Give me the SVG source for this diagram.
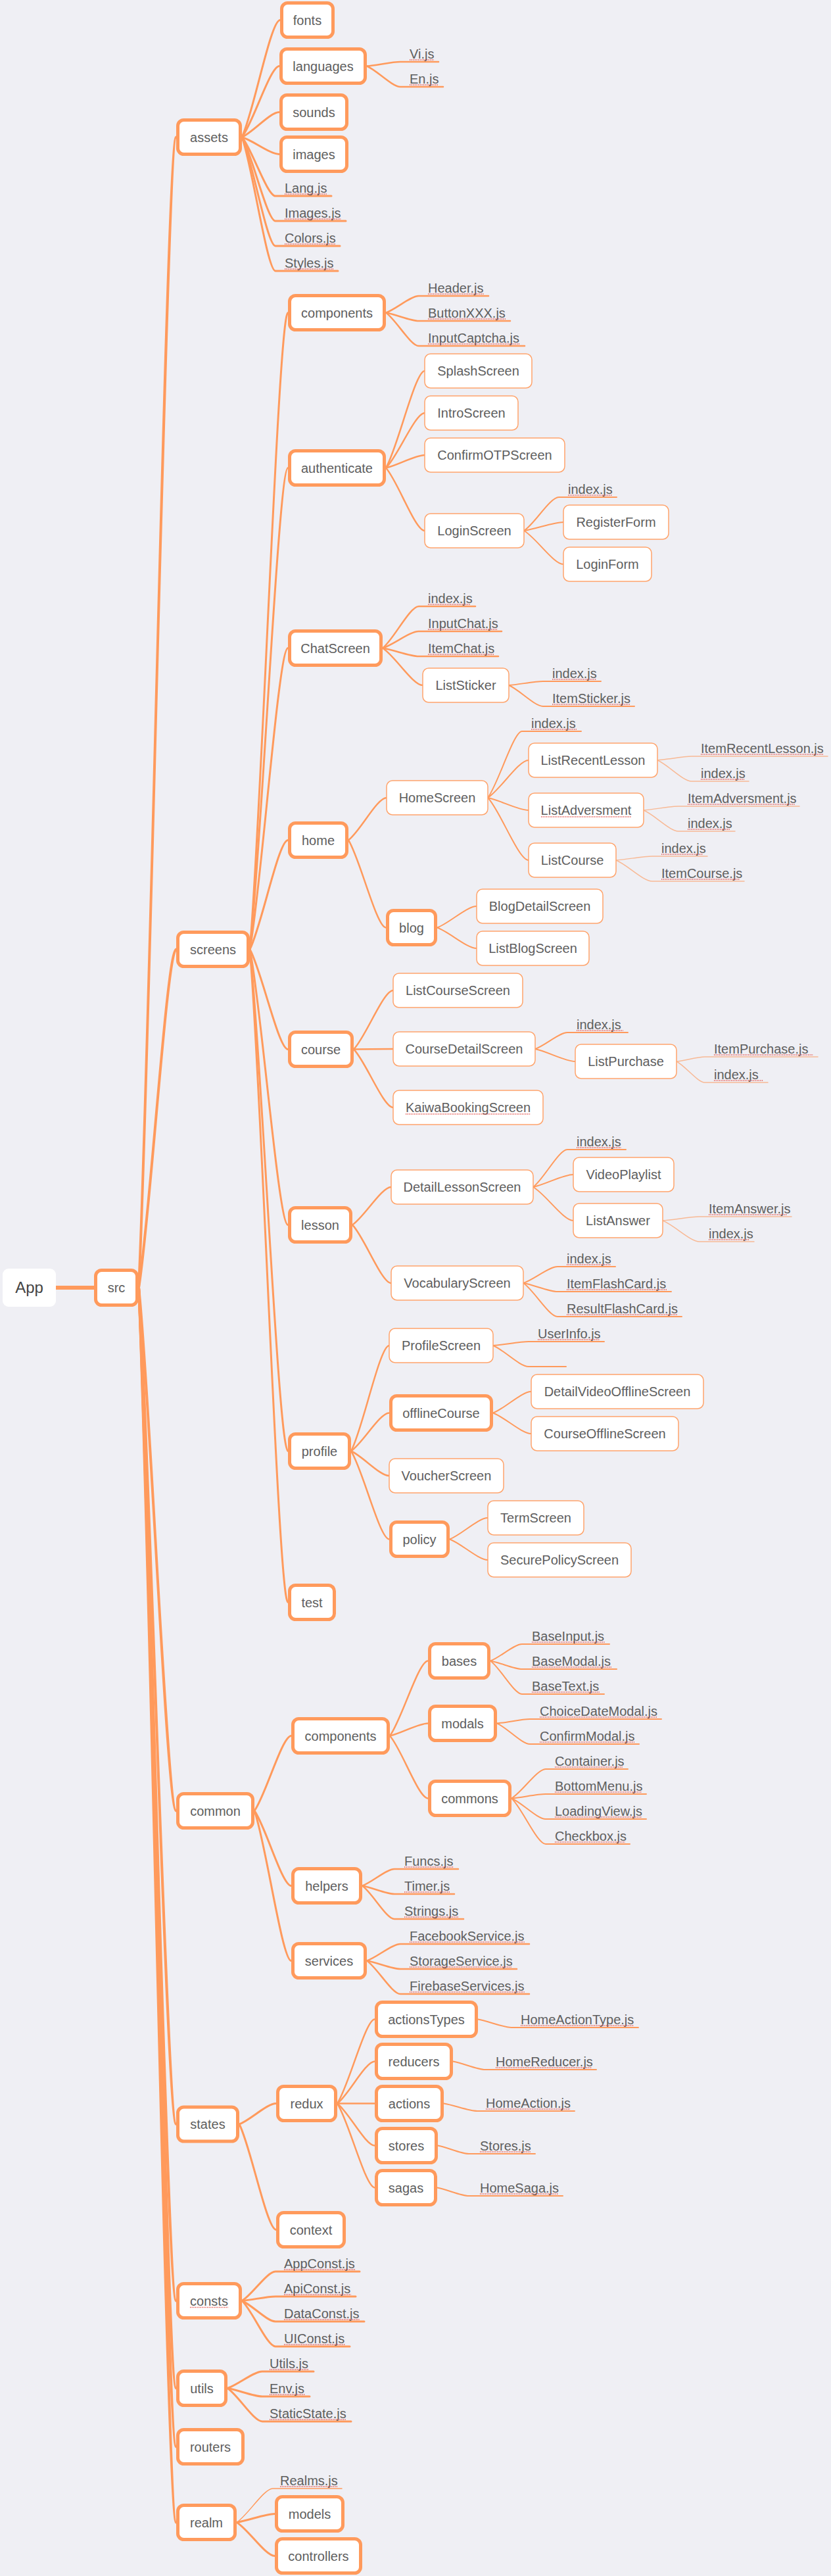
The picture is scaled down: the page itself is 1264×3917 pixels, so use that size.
<svg xmlns="http://www.w3.org/2000/svg" width="1264" height="3917" viewBox="0 0 1264 3917">
<style>
.bg{fill:#EFEFF4}
.k{fill:#fff;stroke:#FF9A5C;stroke-width:5}
.n{fill:#fff;stroke:#FFA46C;stroke-width:1.5}
.r{fill:#fff}
text{font-family:"Liberation Sans",Arial,sans-serif;font-size:20px;fill:#5e5e5e}
.t{text-anchor:middle}
.app{font-size:24px;fill:#444}
.sp{stroke:#E5504A;stroke-width:1.6;stroke-dasharray:1.3 1.3;fill:none}
#connectors path{fill:none;stroke:#FF9A5C;stroke-linecap:round}
.w0{stroke-width:6}
.w1{stroke-width:4}
.w2{stroke-width:3}
.w3{stroke-width:2.5}
.w4{stroke-width:2}
#connectors .w5{stroke-width:1.5;stroke:#F8B995}
.wt{stroke-width:1.5}
</style>
<rect class="bg" x="0" y="0" width="1264" height="3917"/>
<g id="connectors">
<path class="w0" d="M85 1958 H143"/>
<path class="w1" d="M211 1958 C228.1 1608.1 253.8 208.5 268 208.5"/>
<path class="w1" d="M211 1958 C228.1 1855.1 253.8 1443.5 268 1443.5"/>
<path class="w1" d="M211 1958 C228.1 2117.1 253.8 2753.5 268 2753.5"/>
<path class="w1" d="M211 1958 C228.1 2212.4 253.8 3230 268 3230"/>
<path class="w1" d="M211 1958 C228.1 2266.1 253.8 3498.5 268 3498.5"/>
<path class="w1" d="M211 1958 C228.1 2292.7 253.8 3631.5 268 3631.5"/>
<path class="w1" d="M211 1958 C228.1 2310.5 253.8 3720.5 268 3720.5"/>
<path class="w1" d="M211 1958 C228.1 2333.5 253.8 3835.5 268 3835.5"/>
<path class="w2" d="M368 208.5 C385.4 172.9 411.5 30.5 426 30.5"/>
<path class="w2" d="M368 208.5 C385.1 186.9 410.8 100.5 425 100.5"/>
<path class="w2" d="M368 208.5 C385.1 200.9 410.8 170.5 425 170.5"/>
<path class="w2" d="M368 208.5 C385.1 213.7 410.8 234.5 425 234.5"/>
<path class="w2" d="M368 208.5 C383.3 226.4 406.3 298 419 298 H504"/>
<path class="w2" d="M368 208.5 C383.3 234 406.3 336 419 336 H526"/>
<path class="w2" d="M368 208.5 C383.3 241.6 406.3 374 419 374 H517"/>
<path class="w2" d="M368 208.5 C383.3 249.2 406.3 412 419 412 H514"/>
<path class="w3" d="M558 100.5 C573.3 99.2 596.3 94 609 94 H667"/>
<path class="w3" d="M558 100.5 C573.3 106.8 596.3 132 609 132 H674"/>
<path class="w2" d="M380 1443.5 C397.4 1249.9 423.5 475.5 438 475.5"/>
<path class="w2" d="M380 1443.5 C397.4 1297.1 423.5 711.5 438 711.5"/>
<path class="w2" d="M380 1443.5 C397.4 1351.9 423.5 985.5 438 985.5"/>
<path class="w2" d="M380 1443.5 C397.4 1410.3 423.5 1277.5 438 1277.5"/>
<path class="w2" d="M380 1443.5 C397.4 1473.9 423.5 1595.5 438 1595.5"/>
<path class="w2" d="M380 1443.5 C397.4 1527.3 423.5 1862.5 438 1862.5"/>
<path class="w2" d="M380 1443.5 C397.4 1596.1 423.5 2206.5 438 2206.5"/>
<path class="w2" d="M380 1443.5 C397.4 1642.1 423.5 2436.5 438 2436.5"/>
<path class="w3" d="M587 475.5 C602 470.4 624.5 450 637 450 H743"/>
<path class="w3" d="M587 475.5 C602 478 624.5 488 637 488 H776"/>
<path class="w3" d="M587 475.5 C602 485.6 624.5 526 637 526 H798"/>
<path class="w3" d="M587 711.5 C604.7 682 631.3 564 646 564"/>
<path class="w3" d="M587 711.5 C604.7 694.8 631.3 628 646 628"/>
<path class="w3" d="M587 711.5 C604.7 707.7 631.3 692 646 692"/>
<path class="w3" d="M587 711.5 C604.7 730.7 631.3 807 646 807"/>
<path class="w4" d="M797 807 C812.9 797 836.8 756 850 756 H938"/>
<path class="w4" d="M797 807 C815 804.4 842 794 857 794"/>
<path class="w4" d="M797 807 C815 817.2 842 858 857 858"/>
<path class="w3" d="M582 985.5 C598.5 972.8 623.3 922 637 922 H723"/>
<path class="w3" d="M582 985.5 C598.5 980.4 623.3 960 637 960 H763"/>
<path class="w3" d="M582 985.5 C598.5 988 623.3 998 637 998 H758"/>
<path class="w3" d="M582 985.5 C600.3 996.8 627.8 1042 643 1042"/>
<path class="w4" d="M774 1042 C789.6 1040.8 813 1036 826 1036 H914"/>
<path class="w4" d="M774 1042 C789.6 1048.4 813 1074 826 1074 H965"/>
<path class="w3" d="M530 1277.5 C547.4 1264.6 573.5 1213 588 1213"/>
<path class="w3" d="M530 1277.5 C547.1 1304.1 572.8 1410.5 587 1410.5"/>
<path class="w4" d="M742 1213 C757.6 1192.8 781 1112 794 1112 H884"/>
<path class="w4" d="M742 1213 C760.6 1201.6 788.5 1156 804 1156"/>
<path class="w4" d="M742 1213 C760.6 1216.8 788.5 1232 804 1232"/>
<path class="w4" d="M742 1213 C760.6 1232 788.5 1308 804 1308"/>
<path class="w5" d="M1000 1156 C1015.6 1154.8 1039 1150 1052 1150 H1259"/>
<path class="w5" d="M1000 1156 C1015.6 1162.4 1039 1188 1052 1188 H1139"/>
<path class="w5" d="M979 1232 C994.9 1230.8 1018.8 1226 1032 1226 H1216"/>
<path class="w5" d="M979 1232 C994.9 1238.4 1018.8 1264 1032 1264 H1118"/>
<path class="w5" d="M937 1308 C953.5 1306.8 978.3 1302 992 1302 H1076"/>
<path class="w5" d="M937 1308 C953.5 1314.4 978.3 1340 992 1340 H1132"/>
<path class="w4" d="M665 1410.5 C683 1404 710 1378 725 1378"/>
<path class="w4" d="M665 1410.5 C683 1416.8 710 1442 725 1442"/>
<path class="w3" d="M538 1595.5 C556 1577.6 583 1506 598 1506"/>
<path class="w3" d="M538 1595.5 C556 1595.4 583 1595 598 1595"/>
<path class="w3" d="M538 1595.5 C556 1613.2 583 1684 598 1684"/>
<path class="w4" d="M814 1595 C828.7 1590 850.8 1570 863 1570 H955"/>
<path class="w4" d="M814 1595 C832.3 1598.8 859.8 1614 875 1614"/>
<path class="w5" d="M1029 1614 C1041.9 1612.6 1061.3 1607 1072 1607 H1244"/>
<path class="w5" d="M1029 1614 C1041.9 1620.4 1061.3 1646 1072 1646 H1168"/>
<path class="w3" d="M536 1862.5 C553.7 1851 580.3 1805 595 1805"/>
<path class="w3" d="M536 1862.5 C553.7 1880.2 580.3 1951 595 1951"/>
<path class="w4" d="M811 1805 C826.6 1793.6 850 1748 863 1748 H952"/>
<path class="w4" d="M811 1805 C829.3 1801.2 856.8 1786 872 1786"/>
<path class="w4" d="M811 1805 C829.3 1815.2 856.8 1856 872 1856"/>
<path class="w5" d="M1008 1856 C1024.8 1854.8 1050 1850 1064 1850 H1204"/>
<path class="w5" d="M1008 1856 C1024.8 1862.4 1050 1888 1064 1888 H1147"/>
<path class="w4" d="M796 1951 C811.6 1946 835 1926 848 1926 H936"/>
<path class="w4" d="M796 1951 C811.6 1953.6 835 1964 848 1964 H1021"/>
<path class="w4" d="M796 1951 C811.6 1961.2 835 2002 848 2002 H1037"/>
<path class="w3" d="M534 2206.5 C551.4 2174.4 577.5 2046 592 2046"/>
<path class="w3" d="M534 2206.5 C551.4 2194.9 577.5 2148.5 592 2148.5"/>
<path class="w3" d="M534 2206.5 C551.4 2214 577.5 2244 592 2244"/>
<path class="w3" d="M534 2206.5 C551.4 2233.3 577.5 2340.5 592 2340.5"/>
<path class="w4" d="M750 2046 C766.2 2044.8 790.5 2040 804 2040 H919"/>
<path class="w4" d="M750 2046 C766.2 2052.4 790.5 2078 804 2078 H861"/>
<path class="w4" d="M750 2148.5 C767.4 2142 793.5 2116 808 2116"/>
<path class="w4" d="M750 2148.5 C767.4 2154.8 793.5 2180 808 2180"/>
<path class="w4" d="M684 2340.5 C701.4 2334 727.5 2308 742 2308"/>
<path class="w4" d="M684 2340.5 C701.4 2346.8 727.5 2372 742 2372"/>
<path class="w2" d="M387 2753.5 C403.8 2730.7 429 2639.5 443 2639.5"/>
<path class="w2" d="M387 2753.5 C403.8 2776.3 429 2867.5 443 2867.5"/>
<path class="w2" d="M387 2753.5 C403.8 2799.1 429 2981.5 443 2981.5"/>
<path class="w3" d="M593 2639.5 C610.4 2616.7 636.5 2525.5 651 2525.5"/>
<path class="w3" d="M593 2639.5 C610.4 2635.7 636.5 2620.5 651 2620.5"/>
<path class="w3" d="M593 2639.5 C610.4 2658.5 636.5 2734.5 651 2734.5"/>
<path class="w4" d="M746 2525.5 C760.4 2520.4 782 2500 794 2500 H927"/>
<path class="w4" d="M746 2525.5 C760.4 2528 782 2538 794 2538 H938"/>
<path class="w4" d="M746 2525.5 C760.4 2535.6 782 2576 794 2576 H919"/>
<path class="w4" d="M756 2620.5 C771 2619.2 793.5 2614 806 2614 H1006"/>
<path class="w4" d="M756 2620.5 C771 2626.8 793.5 2652 806 2652 H972"/>
<path class="w4" d="M778 2734.5 C793.6 2725.6 817 2690 830 2690 H955"/>
<path class="w4" d="M778 2734.5 C793.6 2733.2 817 2728 830 2728 H983"/>
<path class="w4" d="M778 2734.5 C793.6 2740.8 817 2766 830 2766 H983"/>
<path class="w4" d="M778 2734.5 C793.6 2748.4 817 2804 830 2804 H958"/>
<path class="w3" d="M551 2867.5 C565.7 2862.4 587.8 2842 600 2842 H697"/>
<path class="w3" d="M551 2867.5 C565.7 2870 587.8 2880 600 2880 H691"/>
<path class="w3" d="M551 2867.5 C565.7 2877.6 587.8 2918 600 2918 H705"/>
<path class="w3" d="M558 2981.5 C573.3 2976.4 596.3 2956 609 2956 H805"/>
<path class="w3" d="M558 2981.5 C573.3 2984 596.3 2994 609 2994 H786"/>
<path class="w3" d="M558 2981.5 C573.3 2991.6 596.3 3032 609 3032 H805"/>
<path class="w2" d="M364 3230 C380.8 3223.7 406 3198.5 420 3198.5"/>
<path class="w2" d="M364 3230 C380.8 3262.1 406 3390.5 420 3390.5"/>
<path class="w3" d="M513 3198.5 C530.1 3172.9 555.8 3070.5 570 3070.5"/>
<path class="w3" d="M513 3198.5 C530.1 3185.7 555.8 3134.5 570 3134.5"/>
<path class="w3" d="M513 3198.5 H570"/>
<path class="w3" d="M513 3198.5 C530.1 3211.3 555.8 3262.5 570 3262.5"/>
<path class="w3" d="M513 3198.5 C530.1 3224.1 555.8 3326.5 570 3326.5"/>
<path class="w4" d="M727 3070.5 C742.3 3073 765.3 3083 778 3083 H971"/>
<path class="w4" d="M689 3134.5 C703.7 3137 725.8 3147 738 3147 H907"/>
<path class="w4" d="M675 3198.5 C690.3 3200.8 713.3 3210 726 3210 H874"/>
<path class="w4" d="M666 3262.5 C680.1 3265 701.3 3275 713 3275 H814"/>
<path class="w4" d="M665 3326.5 C679.4 3329 701 3339 713 3339 H856"/>
<path class="w2" d="M368 3498.5 C383.3 3489.6 406.3 3454 419 3454 H547"/>
<path class="w2" d="M368 3498.5 C383.3 3497.2 406.3 3492 419 3492 H541"/>
<path class="w2" d="M368 3498.5 C383.3 3504.8 406.3 3530 419 3530 H554"/>
<path class="w2" d="M368 3498.5 C383.3 3512.4 406.3 3568 419 3568 H532"/>
<path class="w2" d="M346 3631.5 C361.9 3626.4 385.8 3606 399 3606 H477"/>
<path class="w2" d="M346 3631.5 C361.9 3634 385.8 3644 399 3644 H471"/>
<path class="w2" d="M346 3631.5 C361.9 3641.6 385.8 3682 399 3682 H534"/>
<path class="wt" d="M360 3835.5 C376.5 3825.2 401.3 3784 415 3784 H520"/>
<path class="w2" d="M360 3835.5 C377.4 3832.9 403.5 3822.5 418 3822.5"/>
<path class="w2" d="M360 3835.5 C377.4 3845.7 403.5 3886.5 418 3886.5"/>
</g>
<g id="n-app"><rect class="r" x="4" y="1929" width="81" height="58" rx="9"/><text class="t app" x="44.5" y="1966">App</text></g>
<g id="n-src"><rect class="k" x="145.5" y="1931.5" width="63" height="53" rx="9"/><text class="t" x="177" y="1965">src</text></g>
<g id="n-assets"><rect class="k" x="270.5" y="182.5" width="95" height="52" rx="9"/><text class="t" x="318" y="215.5">assets</text></g>
<g id="n-fonts"><rect class="k" x="428.5" y="4.5" width="78" height="52" rx="9"/><text class="t" x="467.5" y="37.5">fonts</text></g>
<g id="n-languages"><rect class="k" x="427.5" y="74.5" width="128" height="52" rx="9"/><text class="t" x="491.5" y="107.5">languages</text></g>
<g id="n-sounds"><rect class="k" x="427.5" y="144.5" width="100" height="52" rx="9"/><text class="t" x="477.5" y="177.5">sounds</text></g>
<g id="n-images"><rect class="k" x="427.5" y="208.5" width="100" height="52" rx="9"/><text class="t" x="477.5" y="241.5">images</text></g>
<g id="f-vi"><text x="623" y="89">Vi.js</text><line class="sp" x1="623" y1="91" x2="660" y2="91"/></g>
<g id="f-en"><text x="623" y="127">En.js</text><line class="sp" x1="623" y1="129" x2="667" y2="129"/></g>
<g id="f-lang"><text x="433" y="293">Lang.js</text><line class="sp" x1="433" y1="295" x2="497" y2="295"/></g>
<g id="f-images"><text x="433" y="331">Images.js</text><line class="sp" x1="433" y1="333" x2="519" y2="333"/></g>
<g id="f-colors"><text x="433" y="369">Colors.js</text><line class="sp" x1="433" y1="371" x2="510" y2="371"/></g>
<g id="f-styles"><text x="433" y="407">Styles.js</text><line class="sp" x1="433" y1="409" x2="507" y2="409"/></g>
<g id="n-screens"><rect class="k" x="270.5" y="1417.5" width="107" height="52" rx="9"/><text class="t" x="324" y="1450.5">screens</text></g>
<g id="n-components-s"><rect class="k" x="440.5" y="449.5" width="144" height="52" rx="9"/><text class="t" x="512.5" y="482.5">components</text></g>
<g id="f-header"><text x="651" y="445">Header.js</text><line class="sp" x1="651" y1="447" x2="736" y2="447"/></g>
<g id="f-buttonxxx"><text x="651" y="483">ButtonXXX.js</text><line class="sp" x1="651" y1="485" x2="769" y2="485"/></g>
<g id="f-inputcaptcha"><text x="651" y="521">InputCaptcha.js</text><line class="sp" x1="651" y1="523" x2="791" y2="523"/></g>
<g id="n-authenticate"><rect class="k" x="440.5" y="685.5" width="144" height="52" rx="9"/><text class="t" x="512.5" y="718.5">authenticate</text></g>
<g id="n-splash"><rect class="n" x="646" y="538" width="163" height="52" rx="9"/><text class="t" x="727.5" y="571">SplashScreen</text></g>
<g id="n-intro"><rect class="n" x="646" y="602" width="142" height="52" rx="9"/><text class="t" x="717" y="635">IntroScreen</text></g>
<g id="n-confirmotp"><rect class="n" x="646" y="666" width="213" height="52" rx="9"/><text class="t" x="752.5" y="699">ConfirmOTPScreen</text></g>
<g id="n-loginscreen"><rect class="n" x="646" y="781" width="151" height="52" rx="9"/><text class="t" x="721.5" y="814">LoginScreen</text></g>
<g id="f-login-index"><text x="864" y="751">index.js</text><line class="sp" x1="864" y1="753" x2="931" y2="753"/></g>
<g id="n-registerform"><rect class="n" x="857" y="768" width="160" height="52" rx="9"/><text class="t" x="937" y="801">RegisterForm</text></g>
<g id="n-loginform"><rect class="n" x="857" y="832" width="134" height="52" rx="9"/><text class="t" x="924" y="865">LoginForm</text></g>
<g id="n-chatscreen"><rect class="k" x="440.5" y="959.5" width="139" height="52" rx="9"/><text class="t" x="510" y="992.5">ChatScreen</text></g>
<g id="f-chat-index"><text x="651" y="917">index.js</text><line class="sp" x1="651" y1="919" x2="716" y2="919"/></g>
<g id="f-inputchat"><text x="651" y="955">InputChat.js</text><line class="sp" x1="651" y1="957" x2="756" y2="957"/></g>
<g id="f-itemchat"><text x="651" y="993">ItemChat.js</text><line class="sp" x1="651" y1="995" x2="751" y2="995"/></g>
<g id="n-liststicker"><rect class="n" x="643" y="1016" width="131" height="52" rx="9"/><text class="t" x="708.5" y="1049">ListSticker</text></g>
<g id="f-sticker-index"><text x="840" y="1031">index.js</text><line class="sp" x1="840" y1="1033" x2="907" y2="1033"/></g>
<g id="f-itemsticker"><text x="840" y="1069">ItemSticker.js</text><line class="sp" x1="840" y1="1071" x2="958" y2="1071"/></g>
<g id="n-home"><rect class="k" x="440.5" y="1251.5" width="87" height="52" rx="9"/><text class="t" x="484" y="1284.5">home</text></g>
<g id="n-homescreen"><rect class="n" x="588" y="1187" width="154" height="52" rx="9"/><text class="t" x="665" y="1220">HomeScreen</text></g>
<g id="f-home-index"><text x="808" y="1107">index.js</text><line class="sp" x1="808" y1="1109" x2="877" y2="1109"/></g>
<g id="n-listrecentlesson"><rect class="n" x="804" y="1130" width="196" height="52" rx="9"/><text class="t" x="902" y="1163">ListRecentLesson</text></g>
<g id="f-itemrecentlesson"><text x="1066" y="1145">ItemRecentLesson.js</text><line class="sp" x1="1066" y1="1147" x2="1252" y2="1147"/></g>
<g id="f-recent-index"><text x="1066" y="1183">index.js</text><line class="sp" x1="1066" y1="1185" x2="1132" y2="1185"/></g>
<g id="n-listadversment"><rect class="n" x="804" y="1206" width="175" height="52" rx="9"/><text class="t" x="891.5" y="1239">ListAdversment</text><line class="sp" x1="823" y1="1242" x2="960" y2="1242"/></g>
<g id="f-itemadversment"><text x="1046" y="1221">ItemAdversment.js</text><line class="sp" x1="1046" y1="1223" x2="1209" y2="1223"/></g>
<g id="f-adv-index"><text x="1046" y="1259">index.js</text><line class="sp" x1="1046" y1="1261" x2="1111" y2="1261"/></g>
<g id="n-listcourse"><rect class="n" x="804" y="1282" width="133" height="52" rx="9"/><text class="t" x="870.5" y="1315">ListCourse</text></g>
<g id="f-course-index"><text x="1006" y="1297">index.js</text><line class="sp" x1="1006" y1="1299" x2="1069" y2="1299"/></g>
<g id="f-itemcourse"><text x="1006" y="1335">ItemCourse.js</text><line class="sp" x1="1006" y1="1337" x2="1125" y2="1337"/></g>
<g id="n-blog"><rect class="k" x="589.5" y="1384.5" width="73" height="52" rx="9"/><text class="t" x="626" y="1417.5">blog</text></g>
<g id="n-blogdetail"><rect class="n" x="725" y="1352" width="192" height="52" rx="9"/><text class="t" x="821" y="1385">BlogDetailScreen</text></g>
<g id="n-listblog"><rect class="n" x="725" y="1416" width="171" height="52" rx="9"/><text class="t" x="810.5" y="1449">ListBlogScreen</text></g>
<g id="n-course"><rect class="k" x="440.5" y="1569.5" width="95" height="52" rx="9"/><text class="t" x="488" y="1602.5">course</text></g>
<g id="n-listcoursescreen"><rect class="n" x="598" y="1480" width="197" height="52" rx="9"/><text class="t" x="696.5" y="1513">ListCourseScreen</text></g>
<g id="n-coursedetail"><rect class="n" x="598" y="1569" width="216" height="52" rx="9"/><text class="t" x="706" y="1602">CourseDetailScreen</text></g>
<g id="n-kaiwa"><rect class="n" x="598" y="1658" width="228" height="52" rx="9"/><text class="t" x="712" y="1691">KaiwaBookingScreen</text><line class="sp" x1="617" y1="1694" x2="807" y2="1694"/></g>
<g id="f-detail-index"><text x="877" y="1565">index.js</text><line class="sp" x1="877" y1="1567" x2="948" y2="1567"/></g>
<g id="n-listpurchase"><rect class="n" x="875" y="1588" width="154" height="52" rx="9"/><text class="t" x="952" y="1621">ListPurchase</text></g>
<g id="f-itempurchase"><text x="1086" y="1602">ItemPurchase.js</text><line class="sp" x1="1086" y1="1604" x2="1237" y2="1604"/></g>
<g id="f-purchase-index"><text x="1086" y="1641">index.js</text><line class="sp" x1="1086" y1="1643" x2="1161" y2="1643"/></g>
<g id="n-lesson"><rect class="k" x="440.5" y="1836.5" width="93" height="52" rx="9"/><text class="t" x="487" y="1869.5">lesson</text></g>
<g id="n-detaillesson"><rect class="n" x="595" y="1779" width="216" height="52" rx="9"/><text class="t" x="703" y="1812">DetailLessonScreen</text></g>
<g id="f-lesson-index"><text x="877" y="1743">index.js</text><line class="sp" x1="877" y1="1745" x2="945" y2="1745"/></g>
<g id="n-videoplaylist"><rect class="n" x="872" y="1760" width="153" height="52" rx="9"/><text class="t" x="948.5" y="1793">VideoPlaylist</text></g>
<g id="n-listanswer"><rect class="n" x="872" y="1830" width="136" height="52" rx="9"/><text class="t" x="940" y="1863">ListAnswer</text></g>
<g id="f-itemanswer"><text x="1078" y="1845">ItemAnswer.js</text><line class="sp" x1="1078" y1="1847" x2="1197" y2="1847"/></g>
<g id="f-answer-index"><text x="1078" y="1883">index.js</text><line class="sp" x1="1078" y1="1885" x2="1140" y2="1885"/></g>
<g id="n-vocabulary"><rect class="n" x="595" y="1925" width="201" height="52" rx="9"/><text class="t" x="695.5" y="1958">VocabularyScreen</text></g>
<g id="f-vocab-index"><text x="862" y="1921">index.js</text><line class="sp" x1="862" y1="1923" x2="929" y2="1923"/></g>
<g id="f-itemflashcard"><text x="862" y="1959">ItemFlashCard.js</text><line class="sp" x1="862" y1="1961" x2="1014" y2="1961"/></g>
<g id="f-resultflashcard"><text x="862" y="1997">ResultFlashCard.js</text><line class="sp" x1="862" y1="1999" x2="1030" y2="1999"/></g>
<g id="n-profile"><rect class="k" x="440.5" y="2180.5" width="91" height="52" rx="9"/><text class="t" x="486" y="2213.5">profile</text></g>
<g id="n-profilescreen"><rect class="n" x="592" y="2020" width="158" height="52" rx="9"/><text class="t" x="671" y="2053">ProfileScreen</text></g>
<g id="f-userinfo"><text x="818" y="2035">UserInfo.js</text><line class="sp" x1="818" y1="2037" x2="912" y2="2037"/></g>
<g id="n-offlinecourse"><rect class="k" x="594.5" y="2122.5" width="153" height="52" rx="9"/><text class="t" x="671" y="2155.5">offlineCourse</text></g>
<g id="n-detailvideooffline"><rect class="n" x="808" y="2090" width="262" height="52" rx="9"/><text class="t" x="939" y="2123">DetailVideoOfflineScreen</text></g>
<g id="n-courseoffline"><rect class="n" x="808" y="2154" width="224" height="52" rx="9"/><text class="t" x="920" y="2187">CourseOfflineScreen</text></g>
<g id="n-voucher"><rect class="n" x="592" y="2218" width="174" height="52" rx="9"/><text class="t" x="679" y="2251">VoucherScreen</text></g>
<g id="n-policy"><rect class="k" x="594.5" y="2314.5" width="87" height="52" rx="9"/><text class="t" x="638" y="2347.5">policy</text></g>
<g id="n-termscreen"><rect class="n" x="742" y="2282" width="146" height="52" rx="9"/><text class="t" x="815" y="2315">TermScreen</text></g>
<g id="n-securepolicy"><rect class="n" x="742" y="2346" width="218" height="52" rx="9"/><text class="t" x="851" y="2379">SecurePolicyScreen</text></g>
<g id="n-test"><rect class="k" x="440.5" y="2410.5" width="68" height="52" rx="9"/><text class="t" x="474.5" y="2443.5">test</text></g>
<g id="n-common"><rect class="k" x="270.5" y="2727.5" width="114" height="52" rx="9"/><text class="t" x="327.5" y="2760.5">common</text></g>
<g id="n-components-c"><rect class="k" x="445.5" y="2613.5" width="145" height="52" rx="9"/><text class="t" x="518" y="2646.5">components</text></g>
<g id="n-bases"><rect class="k" x="653.5" y="2499.5" width="90" height="52" rx="9"/><text class="t" x="698.5" y="2532.5">bases</text></g>
<g id="f-baseinput"><text x="809" y="2495">BaseInput.js</text><line class="sp" x1="809" y1="2497" x2="920" y2="2497"/></g>
<g id="f-basemodal"><text x="809" y="2533">BaseModal.js</text><line class="sp" x1="809" y1="2535" x2="931" y2="2535"/></g>
<g id="f-basetext"><text x="809" y="2571">BaseText.js</text><line class="sp" x1="809" y1="2573" x2="912" y2="2573"/></g>
<g id="n-modals"><rect class="k" x="653.5" y="2594.5" width="100" height="52" rx="9"/><text class="t" x="703.5" y="2627.5">modals</text></g>
<g id="f-choicedatemodal"><text x="821" y="2609">ChoiceDateModal.js</text><line class="sp" x1="821" y1="2611" x2="999" y2="2611"/></g>
<g id="f-confirmmodal"><text x="821" y="2647">ConfirmModal.js</text><line class="sp" x1="821" y1="2649" x2="965" y2="2649"/></g>
<g id="n-commons"><rect class="k" x="653.5" y="2708.5" width="122" height="52" rx="9"/><text class="t" x="714.5" y="2741.5">commons</text></g>
<g id="f-container"><text x="844" y="2685">Container.js</text><line class="sp" x1="844" y1="2687" x2="948" y2="2687"/></g>
<g id="f-bottommenu"><text x="844" y="2723">BottomMenu.js</text><line class="sp" x1="844" y1="2725" x2="976" y2="2725"/></g>
<g id="f-loadingview"><text x="844" y="2761">LoadingView.js</text><line class="sp" x1="844" y1="2763" x2="976" y2="2763"/></g>
<g id="f-checkbox"><text x="844" y="2799">Checkbox.js</text><line class="sp" x1="844" y1="2801" x2="951" y2="2801"/></g>
<g id="n-helpers"><rect class="k" x="445.5" y="2841.5" width="103" height="52" rx="9"/><text class="t" x="497" y="2874.5">helpers</text></g>
<g id="f-funcs"><text x="615" y="2837">Funcs.js</text><line class="sp" x1="615" y1="2839" x2="690" y2="2839"/></g>
<g id="f-timer"><text x="615" y="2875">Timer.js</text><line class="sp" x1="615" y1="2877" x2="684" y2="2877"/></g>
<g id="f-strings"><text x="615" y="2913">Strings.js</text><line class="sp" x1="615" y1="2915" x2="698" y2="2915"/></g>
<g id="n-services"><rect class="k" x="445.5" y="2955.5" width="110" height="52" rx="9"/><text class="t" x="500.5" y="2988.5">services</text></g>
<g id="f-facebookservice"><text x="623" y="2951">FacebookService.js</text><line class="sp" x1="623" y1="2953" x2="798" y2="2953"/></g>
<g id="f-storageservice"><text x="623" y="2989">StorageService.js</text><line class="sp" x1="623" y1="2991" x2="779" y2="2991"/></g>
<g id="f-firebaseservices"><text x="623" y="3027">FirebaseServices.js</text><line class="sp" x1="623" y1="3029" x2="798" y2="3029"/></g>
<g id="n-states"><rect class="k" x="270.5" y="3204" width="91" height="52" rx="9"/><text class="t" x="316" y="3237">states</text></g>
<g id="n-redux"><rect class="k" x="422.5" y="3172.5" width="88" height="52" rx="9"/><text class="t" x="466.5" y="3205.5">redux</text></g>
<g id="n-actionstypes"><rect class="k" x="572.5" y="3044.5" width="152" height="52" rx="9"/><text class="t" x="648.5" y="3077.5">actionsTypes</text></g>
<g id="f-homeactiontype"><text x="792" y="3078">HomeActionType.js</text><line class="sp" x1="792" y1="3080" x2="964" y2="3080"/></g>
<g id="n-reducers"><rect class="k" x="572.5" y="3108.5" width="114" height="52" rx="9"/><text class="t" x="629.5" y="3141.5">reducers</text></g>
<g id="f-homereducer"><text x="754" y="3142">HomeReducer.js</text><line class="sp" x1="754" y1="3144" x2="900" y2="3144"/></g>
<g id="n-actions"><rect class="k" x="572.5" y="3172.5" width="100" height="52" rx="9"/><text class="t" x="622.5" y="3205.5">actions</text></g>
<g id="f-homeaction"><text x="739" y="3205">HomeAction.js</text><line class="sp" x1="739" y1="3207" x2="867" y2="3207"/></g>
<g id="n-stores"><rect class="k" x="572.5" y="3236.5" width="91" height="52" rx="9"/><text class="t" x="618" y="3269.5">stores</text></g>
<g id="f-stores"><text x="730" y="3270">Stores.js</text><line class="sp" x1="730" y1="3272" x2="807" y2="3272"/></g>
<g id="n-sagas"><rect class="k" x="572.5" y="3300.5" width="90" height="52" rx="9"/><text class="t" x="617.5" y="3333.5">sagas</text></g>
<g id="f-homesaga"><text x="730" y="3334">HomeSaga.js</text><line class="sp" x1="730" y1="3336" x2="849" y2="3336"/></g>
<g id="n-context"><rect class="k" x="422.5" y="3364.5" width="101" height="52" rx="9"/><text class="t" x="473" y="3397.5">context</text></g>
<g id="n-consts"><rect class="k" x="270.5" y="3472.5" width="95" height="52" rx="9"/><text class="t" x="318" y="3505.5">consts</text><line class="sp" x1="289" y1="3508.5" x2="347" y2="3508.5"/></g>
<g id="f-appconst"><text x="432" y="3449">AppConst.js</text><line class="sp" x1="432" y1="3451" x2="540" y2="3451"/></g>
<g id="f-apiconst"><text x="432" y="3487">ApiConst.js</text><line class="sp" x1="432" y1="3489" x2="534" y2="3489"/></g>
<g id="f-dataconst"><text x="432" y="3525">DataConst.js</text><line class="sp" x1="432" y1="3527" x2="547" y2="3527"/></g>
<g id="f-uiconst"><text x="432" y="3563">UIConst.js</text><line class="sp" x1="432" y1="3565" x2="525" y2="3565"/></g>
<g id="n-utils"><rect class="k" x="270.5" y="3605.5" width="73" height="52" rx="9"/><text class="t" x="307" y="3638.5">utils</text></g>
<g id="f-utilsjs"><text x="410" y="3601">Utils.js</text><line class="sp" x1="410" y1="3603" x2="470" y2="3603"/></g>
<g id="f-env"><text x="410" y="3639">Env.js</text><line class="sp" x1="410" y1="3641" x2="464" y2="3641"/></g>
<g id="f-staticstate"><text x="410" y="3677">StaticState.js</text><line class="sp" x1="410" y1="3679" x2="527" y2="3679"/></g>
<g id="n-routers"><rect class="k" x="270.5" y="3694.5" width="99" height="52" rx="9"/><text class="t" x="320" y="3727.5">routers</text></g>
<g id="n-realm"><rect class="k" x="270.5" y="3809.5" width="87" height="52" rx="9"/><text class="t" x="314" y="3842.5">realm</text></g>
<g id="f-realms"><text x="426" y="3779">Realms.js</text><line class="sp" x1="426" y1="3781" x2="513" y2="3781"/></g>
<g id="n-models"><rect class="k" x="420.5" y="3796.5" width="101" height="52" rx="9"/><text class="t" x="471" y="3829.5">models</text></g>
<g id="n-controllers"><rect class="k" x="420.5" y="3860.5" width="128" height="52" rx="9"/><text class="t" x="484.5" y="3893.5">controllers</text></g>
</svg>
